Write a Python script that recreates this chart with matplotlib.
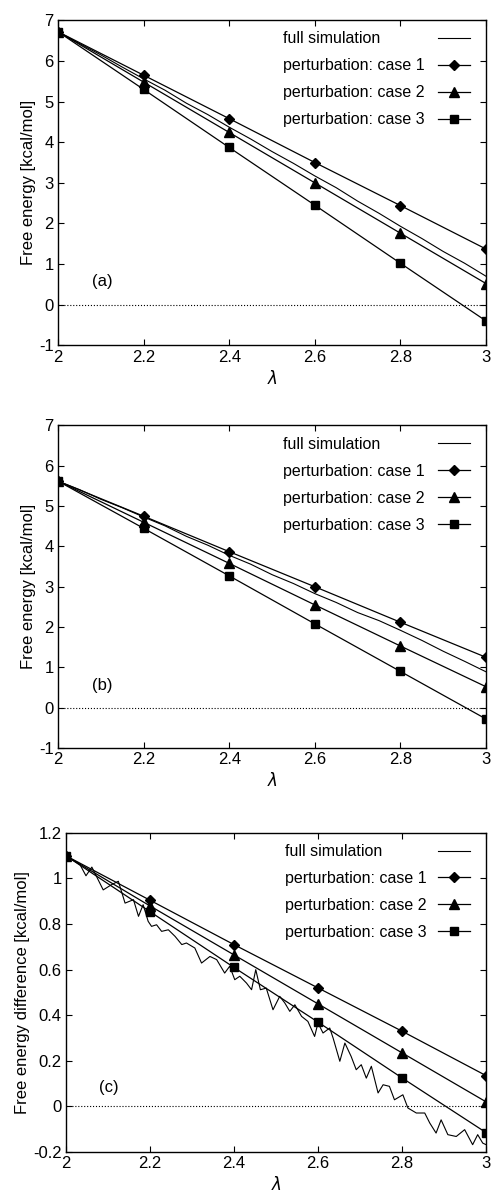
import matplotlib
matplotlib.use("Agg")
from matplotlib import pyplot as plt
from matplotlib.patches import Rectangle

plt.rcParams['font.family'] = ['Liberation Sans', 'DejaVu Sans']

lam_pts = [2.0, 2.2, 2.4, 2.6, 2.8, 3.0]

# (a)
a_case1 = [6.72, 5.65, 4.58, 3.50, 2.44, 1.37]
a_case2 = [6.72, 5.48, 4.24, 3.00, 1.76, 0.52]
a_case3 = [6.72, 5.30, 3.87, 2.45, 1.02, -0.40]
a_full_lam = [2.0, 2.05, 2.1, 2.15, 2.2, 2.25, 2.3, 2.35, 2.4, 2.45, 2.5,
              2.55, 2.6, 2.65, 2.7, 2.75, 2.8, 2.85, 2.9, 2.95, 3.0]
a_full = [6.72, 6.43, 6.15, 5.85, 5.56, 5.28, 4.96, 4.68, 4.37, 4.08, 3.77,
          3.48, 3.17, 2.88, 2.55, 2.25, 1.93, 1.63, 1.31, 1.02, 0.70]

# (b)
b_case1 = [5.62, 4.75, 3.87, 3.00, 2.12, 1.25]
b_case2 = [5.62, 4.60, 3.58, 2.55, 1.53, 0.52]
b_case3 = [5.62, 4.45, 3.27, 2.08, 0.90, -0.28]
b_full_lam = a_full_lam
b_full = [5.62, 5.41, 5.17, 4.96, 4.73, 4.51, 4.25, 4.03, 3.78, 3.56, 3.30,
          3.08, 2.83, 2.61, 2.36, 2.16, 1.92, 1.67, 1.40, 1.15, 0.89]

# (c)
c_case1 = [1.10, 0.905, 0.71, 0.52, 0.33, 0.135]
c_case2 = [1.10, 0.88, 0.665, 0.45, 0.235, 0.02]
c_case3 = [1.10, 0.855, 0.61, 0.37, 0.125, -0.115]
c_full_lam = [2.000, 2.034, 2.048, 2.062, 2.089, 2.109, 2.125, 2.141, 2.161, 2.173,
              2.184, 2.196, 2.204, 2.216, 2.228, 2.244, 2.260, 2.276, 2.287, 2.307,
              2.323, 2.343, 2.359, 2.378, 2.390, 2.402, 2.414, 2.430, 2.442, 2.452,
              2.463, 2.477, 2.493, 2.509, 2.521, 2.533, 2.545, 2.561, 2.576, 2.592,
              2.600, 2.612, 2.628, 2.636, 2.652, 2.664, 2.679, 2.691, 2.703, 2.715,
              2.727, 2.743, 2.755, 2.770, 2.782, 2.802, 2.814, 2.834, 2.854, 2.866,
              2.881, 2.893, 2.909, 2.929, 2.949, 2.968, 2.980, 2.992, 3.000]
c_full = [1.100, 1.060, 1.012, 1.050, 0.950, 0.973, 0.988, 0.892, 0.907, 0.834,
          0.885, 0.812, 0.790, 0.797, 0.768, 0.775, 0.746, 0.710, 0.717, 0.695,
          0.629, 0.658, 0.644, 0.585, 0.615, 0.556, 0.571, 0.541, 0.512, 0.600,
          0.512, 0.519, 0.424, 0.483, 0.454, 0.417, 0.446, 0.395, 0.373, 0.307,
          0.366, 0.322, 0.344, 0.300, 0.198, 0.278, 0.219, 0.161, 0.183, 0.124,
          0.176, 0.059, 0.095, 0.088, 0.029, 0.051, -0.007, -0.029, -0.029, -0.073,
          -0.117, -0.059, -0.124, -0.132, -0.102, -0.168, -0.124, -0.161, -0.168]

labels = ['full simulation', 'perturbation: case 1',
          'perturbation: case 2', 'perturbation: case 3']

fig = plt.figure(figsize=(4.91, 11.95), dpi=100)

panels = [
    ([0.118, 0.711, 0.872, 0.272], a_full_lam, a_full, a_case1, a_case2, a_case3,
     (-1, 7), list(range(-1, 8)), [str(v) for v in range(-1, 8)],
     'Free energy [kcal/mol]', '(a)', (2.08, 0.45), 0.499),
    ([0.118, 0.374, 0.872, 0.270], b_full_lam, b_full, b_case1, b_case2, b_case3,
     (-1, 7), list(range(-1, 8)), [str(v) for v in range(-1, 8)],
     'Free energy [kcal/mol]', '(b)', (2.08, 0.45), 0.499),
    ([0.134, 0.036, 0.856, 0.267], c_full_lam, c_full, c_case1, c_case2, c_case3,
     (-0.2, 1.2), [-0.2, 0, 0.2, 0.4, 0.6, 0.8, 1, 1.2],
     ['-0.2', '0', '0.2', '0.4', '0.6', '0.8', '1', '1.2'],
     'Free energy difference [kcal/mol]', '(c)', (2.08, 0.065), 0.496),
]

leg_kw = dict(frameon=False, fontsize=11.5, labelspacing=0.75, borderaxespad=0.3)

for rect, flam, full, c1, c2, c3, ylim, yt, ytl, ylab, tag, tagpos, legx in panels:
    ax = fig.add_axes(rect)
    ax.axhline(0, color='k', ls=':', lw=0.8)
    l0, = ax.plot(flam, full, 'k-', lw=0.8)
    l1, = ax.plot(lam_pts, c1, 'k-', marker='D', ms=5, lw=0.9)
    l2, = ax.plot(lam_pts, c2, 'k-', marker='^', ms=6.5, lw=0.9)
    l3, = ax.plot(lam_pts, c3, 'k-', marker='s', ms=5.5, lw=0.9)
    ax.set_xlim(2, 3)
    ax.set_ylim(*ylim)
    ax.set_xticks([2, 2.2, 2.4, 2.6, 2.8, 3])
    ax.set_xticklabels(['2', '2.2', '2.4', '2.6', '2.8', '3'])
    ax.set_yticks(yt)
    ax.set_yticklabels(ytl)
    ax.tick_params(direction='in', top=True, right=True, length=4,
                   labelsize=12, pad=3)
    for s in ax.spines.values():
        s.set_linewidth(1.0)
    ax.set_xlabel(r'$\lambda$', fontsize=12, labelpad=3)
    ax.set_ylabel(ylab, fontsize=12, labelpad=2)
    ax.text(tagpos[0], tagpos[1], tag, fontsize=12)

    # gnuplot-style key: left-aligned text, samples on the right
    blanks = [Rectangle((0, 0), 0, 0, visible=False) for _ in labels]
    leg_txt = ax.legend(blanks, labels, loc='upper left',
                        bbox_to_anchor=(legx, 1.0), handlelength=0,
                        handletextpad=0, **leg_kw)
    ax.add_artist(leg_txt)
    ax.legend([l0, l1, l2, l3], [' '] * 4, loc='upper right',
              handlelength=2.0, handletextpad=0, **leg_kw)

fig.savefig('out.png', dpi=100)
